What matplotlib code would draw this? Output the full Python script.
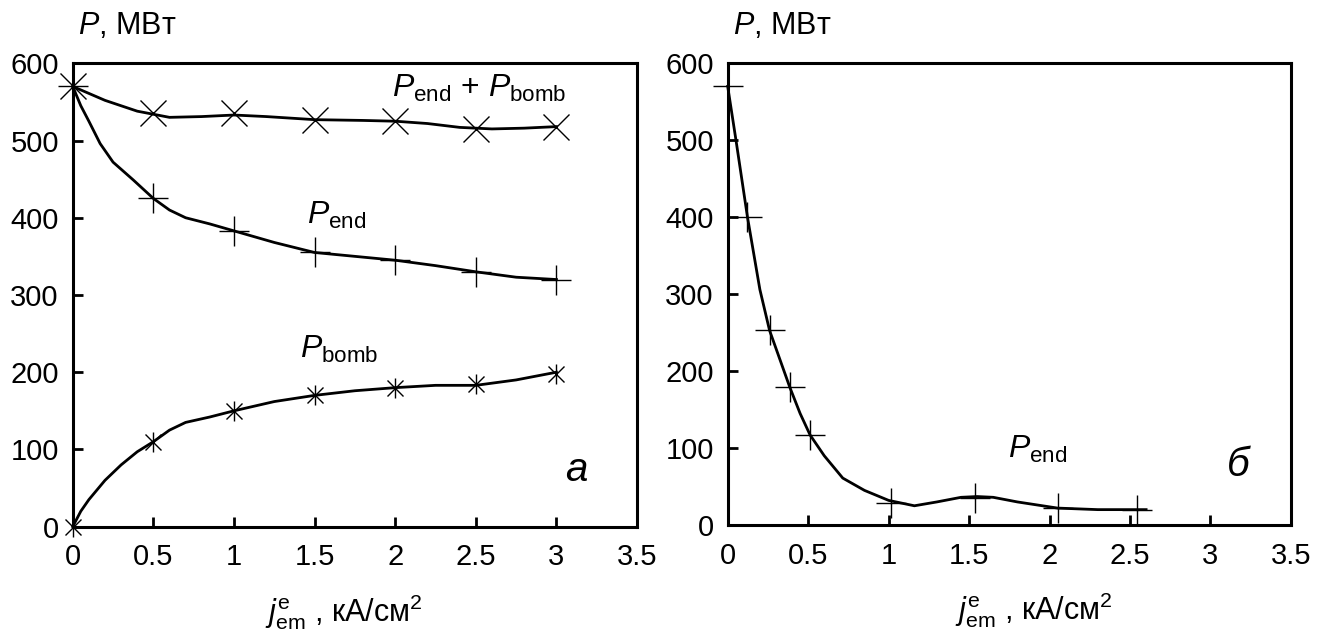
import matplotlib
matplotlib.use("Agg")
import matplotlib.pyplot as plt
import numpy as np

plt.rcParams['font.family'] = ['Liberation Sans', 'DejaVu Sans']
plt.rcParams['mathtext.fontset'] = 'custom'
plt.rcParams['mathtext.rm'] = 'Liberation Sans'
plt.rcParams['mathtext.it'] = 'Liberation Sans:italic'
plt.rcParams['mathtext.bf'] = 'Liberation Sans:bold'

# ---- panel a: marker points ----
j_a = [0, 0.5, 1, 1.5, 2, 2.5, 3]
p_sum = [570, 535, 535, 527, 525, 515, 518]
p_end_a = [570, 425, 383, 355, 345, 330, 320]
p_bomb = [0, 110, 150, 170, 180, 185, 198]

# ---- panel a: smooth curves ----
jc_sum = [0, 0.2, 0.4, 0.6, 0.8, 1.0, 1.2, 1.5, 1.8, 2.0, 2.2, 2.4, 2.6, 2.8, 3.0]
pc_sum = [570, 552, 538, 530, 531, 533, 531, 527, 526, 525, 522, 517, 515, 516, 518]
jc_end = [0, 0.05, 0.1, 0.17, 0.25, 0.375, 0.5, 0.6, 0.7, 0.85, 1.0, 1.25, 1.5, 1.75, 2.0, 2.25, 2.5, 2.75, 3.0]
pc_end = [570, 545, 525, 496, 472, 449, 425, 410, 400, 392, 383, 368, 355, 350, 345, 338, 330, 323, 320]
jc_bomb = [0, 0.05, 0.1, 0.2, 0.3, 0.4, 0.5, 0.6, 0.7, 0.85, 1.0, 1.25, 1.5, 1.75, 2.0, 2.25, 2.5, 2.75, 3.0]
pc_bomb = [0, 20, 35, 60, 80, 97, 110, 125, 135, 142, 150, 162, 170, 176, 180, 183, 183, 190, 200]

# ---- panel b ----
j_b = [0, 0.123, 0.26, 0.386, 0.512, 1.017, 1.537, 2.055, 2.546]
p_end_b = [570, 400, 253, 179, 117, 29, 35, 22, 20]
jc_b = [0, 0.053, 0.123, 0.2, 0.26, 0.386, 0.45, 0.512, 0.6, 0.715, 0.85, 1.0, 1.16, 1.3, 1.45, 1.55, 1.65, 1.8, 2.05, 2.3, 2.6]
pc_b = [570, 498, 400, 306, 253, 179, 145, 117, 90, 61, 45, 32, 25, 30, 36, 37, 36, 30, 22, 20, 20]

xticks = [0, 0.5, 1, 1.5, 2, 2.5, 3, 3.5]
xtick_labels = ['0', '0.5', '1', '1.5', '2', '2.5', '3', '3.5']
yticks = [0, 100, 200, 300, 400, 500, 600]

fig = plt.figure(figsize=(13.25, 6.36), dpi=100)
ax1 = fig.add_axes([0.0549, 0.1719, 0.4259, 0.7286])
ax2 = fig.add_axes([0.5492, 0.1745, 0.4251, 0.7260])

lw_curve = 2.0
mk_lw = 1.0

def style(ax):
    ax.set_xlim(0, 3.5)
    ax.set_ylim(0, 600)
    ax.set_xticks(xticks)
    ax.set_xticklabels(xtick_labels)
    ax.set_yticks(yticks)
    ax.tick_params(direction='in', length=7, width=2, labelsize=21)
    ax.tick_params(axis='x', pad=12)
    ax.tick_params(axis='y', pad=10)
    for s in ax.spines.values():
        s.set_linewidth(2.2)
    ax.text(0.01, 1.08, r'$P$, МВт', transform=ax.transAxes, fontsize=22,
            ha='left', va='center')

style(ax1)
style(ax2)

# panel a curves
ax1.plot(jc_sum, pc_sum, color='black', lw=lw_curve, clip_on=False)
ax1.plot(jc_end, pc_end, color='black', lw=lw_curve, clip_on=False)
ax1.plot(jc_bomb, pc_bomb, color='black', lw=lw_curve, clip_on=False)
ax1.plot(j_a, p_sum, ls='none', marker='x', ms=19, mew=mk_lw, color='black', clip_on=False)
ax1.plot(j_a, p_end_a, ls='none', marker='+', ms=21, mew=mk_lw, color='black', clip_on=False)
ax1.plot(j_a, p_bomb, ls='none', marker='x', ms=12, mew=mk_lw, color='black', clip_on=False)
ax1.plot(j_a, p_bomb, ls='none', marker='|', ms=14, mew=mk_lw, color='black', clip_on=False)

ax1.text(1.98, 556, r'$P_{\rm end}$ + $P_{\rm bomb}$', fontsize=23, ha='left', va='baseline')
ax1.text(1.45, 403, r'$P_{\rm end}$', fontsize=23, ha='left', va='center')
ax1.text(1.41, 230, r'$P_{\rm bomb}$', fontsize=23, ha='left', va='center')
ax1.text(3.12, 73, 'а', fontsize=29, style='italic', ha='center', va='center')

# panel b
ax2.plot(jc_b, pc_b, color='black', lw=lw_curve, clip_on=False)
ax2.plot(j_b, p_end_b, ls='none', marker='+', ms=21, mew=mk_lw, color='black', clip_on=False)
ax2.text(1.74, 98, r'$P_{\rm end}$', fontsize=23, ha='left', va='center')
ax2.text(3.17, 78, 'б', fontsize=29, style='italic', ha='center', va='center')

xl = r'$j_{\rm em}^{\rm e}$ , кА/см$^2$'
ax1.text(0.481, -0.205, xl, transform=ax1.transAxes, fontsize=22, ha='center', va='baseline')
ax2.text(0.544, -0.205, xl, transform=ax2.transAxes, fontsize=22, ha='center', va='baseline')

fig.savefig('out.png', dpi=100)
